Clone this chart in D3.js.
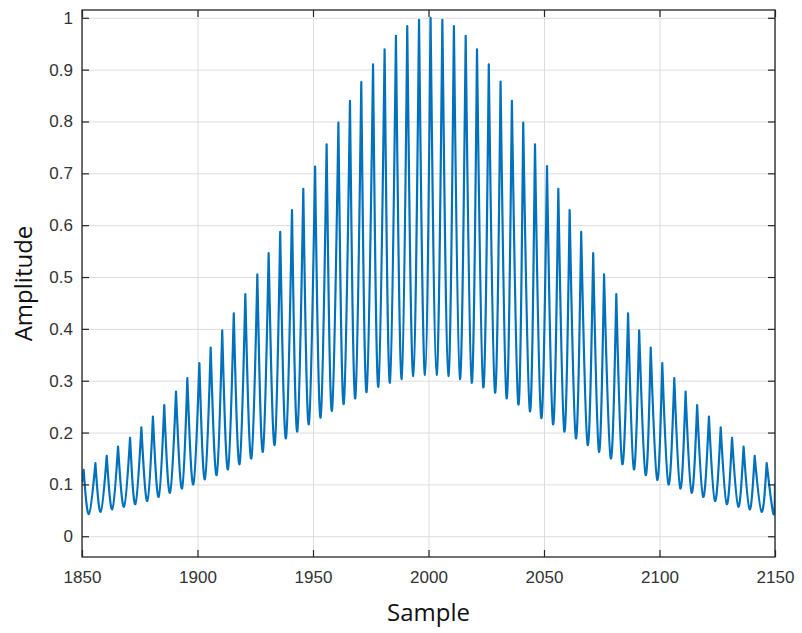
<!DOCTYPE html>
<html>
<head>
<meta charset="utf-8">
<script src="https://cdn.jsdelivr.net/npm/d3@7/dist/d3.min.js"></script>
<style>
    body { margin: 0; background: #fff; }
    .tick text { font-family: "Liberation Sans", Arial, sans-serif; }
</style>
</head>
<body>
<svg id="svg" width="802" height="633"></svg>
<script>
// values
var peakSamples = [1850.7, 1855.8, 1860.7, 1865.6, 1870.8, 1875.7, 1880.7, 1885.6, 1890.7, 1895.6,
    1900.8, 1905.7, 1910.7, 1915.7, 1920.7, 1925.9, 1930.8, 1935.8, 1940.9, 1945.8,
    1950.9, 1955.9, 1961.0, 1966.0, 1970.9, 1976.0, 1981.0, 1985.9, 1990.8, 1995.9,
    2000.9, 2006.0, 2011.0, 2016.1, 2021.0, 2026.1, 2031.2, 2036.1, 2041.0, 2046.1,
    2051.3, 2056.2, 2061.1, 2066.1, 2071.3, 2076.0, 2081.3, 2086.4, 2091.2, 2096.2,
    2101.2, 2106.4, 2111.3, 2116.3, 2121.4, 2126.5, 2131.4, 2136.4, 2141.2, 2146.4];
var peakValues = [0.128, 0.141, 0.155, 0.173, 0.190, 0.210, 0.231, 0.253, 0.279, 0.305,
    0.334, 0.364, 0.397, 0.430, 0.467, 0.505, 0.546, 0.587, 0.629, 0.670,
    0.713, 0.756, 0.798, 0.840, 0.876, 0.910, 0.939, 0.965, 0.984, 0.996,
    1.000, 0.996, 0.984, 0.965, 0.939, 0.910, 0.877, 0.840, 0.798, 0.756,
    0.714, 0.670, 0.629, 0.587, 0.546, 0.505, 0.467, 0.430, 0.397, 0.364,
    0.334, 0.305, 0.279, 0.253, 0.231, 0.210, 0.190, 0.173, 0.155, 0.141];
var troughSamples = [1853.0, 1858.1, 1863.1, 1868.2, 1873.1, 1878.3, 1883.2, 1888.1, 1893.3, 1898.2,
    1903.2, 1908.3, 1913.2, 1918.2, 1923.3, 1928.3, 1933.4, 1938.3, 1943.2, 1948.2,
    1953.3, 1958.2, 1963.3, 1968.3, 1973.2, 1978.3, 1983.3, 1988.4, 1993.4, 1998.5,
    2003.5, 2008.6, 2013.6, 2018.7, 2023.7, 2028.8, 2033.8, 2038.9, 2043.9, 2048.8,
    2053.9, 2058.8, 2063.8, 2068.9, 2073.8, 2078.9, 2083.9, 2088.9, 2094.0, 2099.0,
    2103.9, 2109.0, 2113.9, 2118.9, 2124.0, 2129.1, 2134.1, 2139.0, 2144.2, 2149.3];
var troughValues = [0.043, 0.047, 0.052, 0.057, 0.062, 0.068, 0.076, 0.084, 0.092, 0.100,
    0.110, 0.118, 0.129, 0.139, 0.150, 0.163, 0.176, 0.189, 0.202, 0.216,
    0.229, 0.242, 0.255, 0.266, 0.278, 0.288, 0.296, 0.303, 0.309, 0.311,
    0.311, 0.309, 0.303, 0.296, 0.287, 0.277, 0.266, 0.254, 0.241, 0.228,
    0.216, 0.202, 0.189, 0.176, 0.163, 0.150, 0.139, 0.129, 0.118, 0.109,
    0.100, 0.092, 0.084, 0.076, 0.068, 0.062, 0.057, 0.052, 0.047, 0.043];
var firstPoint = [1850, 0.105];   // where the trace enters the axes
var lastPoint = [2150, 0.100];    // where it leaves them

var xTicks = [1850, 1900, 1950, 2000, 2050, 2100, 2150];
var yTicks = [0, 0.1, 0.2, 0.3, 0.4, 0.5, 0.6, 0.7, 0.8, 0.9, 1];
var xDomain = [1850, 2150];
var yDomain = [-0.04, 1.015];

var svg = d3.select("svg"),
    margin = {top: 10, right: 27, bottom: 76, left: 82},
    width = 802 - margin.left - margin.right,
    height = 633 - margin.top - margin.bottom;

var ink = "#262626";

var g = svg.append("g").attr("transform", "translate(" + margin.left + "," + margin.top + ")");

var x = d3.scaleLinear().domain(xDomain).range([0, width]);
var y = d3.scaleLinear().domain(yDomain).range([height, 0]);

// grid lines
g.append("g")
    .attr("class", "grid")
    .attr("transform", "translate(0," + height + ")")
    .call(d3.axisBottom(x).tickValues(xTicks).tickSize(-height).tickFormat(""));
g.append("g")
    .attr("class", "grid")
    .call(d3.axisLeft(y).tickValues(yTicks).tickSize(-width).tickFormat(""));
g.selectAll(".grid .domain").remove();
g.selectAll(".grid line").attr("stroke", "#dcdcdc").attr("stroke-width", 1);

// the trace: one piece per period, corner at each peak, smooth through the trough
var pts = function (s, v) { return [s, v]; };
var pieces = [[firstPoint, pts(peakSamples[0], peakValues[0])]];
for (var k = 0; k < peakSamples.length; k++) {
    var next = k + 1 < peakSamples.length ? pts(peakSamples[k + 1], peakValues[k + 1]) : lastPoint;
    pieces.push([pts(peakSamples[k], peakValues[k]), pts(troughSamples[k], troughValues[k]), next]);
}

var line = d3.line()
    .x(function (d) { return x(d[0]); })
    .y(function (d) { return y(d[1]); })
    .curve(d3.curveNatural);

g.append("clipPath").attr("id", "plot-clip")
    .append("rect").attr("width", width).attr("height", height);

g.append("path")
    .attr("clip-path", "url(#plot-clip)")
    .attr("d", pieces.map(function (p) { return line(p); }).join(""))
    .attr("fill", "none")
    .attr("stroke", "#0072BD")
    .attr("stroke-width", 2.2)
    .attr("stroke-linejoin", "round")
    .attr("stroke-linecap", "round");

// axes with ticks pointing inwards, on all four sides
var xAxis = g.append("g")
    .attr("transform", "translate(0," + height + ")")
    .call(d3.axisBottom(x).tickValues(xTicks).tickSizeInner(-7).tickSizeOuter(0).tickPadding(14).tickFormat(d3.format("d")));
var yAxis = g.append("g")
    .call(d3.axisLeft(y).tickValues(yTicks).tickSizeInner(-7).tickSizeOuter(0).tickPadding(9).tickFormat(d3.format("")));
var topAxis = g.append("g")
    .call(d3.axisTop(x).tickValues(xTicks).tickSizeInner(-7).tickSizeOuter(0).tickFormat(""));
var rightAxis = g.append("g")
    .attr("transform", "translate(" + width + ",0)")
    .call(d3.axisRight(y).tickValues(yTicks).tickSizeInner(-7).tickSizeOuter(0).tickFormat(""));

[xAxis, yAxis, topAxis, rightAxis].forEach(function (a) {
    a.select(".domain").remove();
    a.selectAll("line").attr("stroke", ink).attr("stroke-width", 1.2);
    a.selectAll("text").attr("fill", "#333").style("font-size", "17px");
});

// box round the axes
g.append("rect")
    .attr("width", width)
    .attr("height", height)
    .attr("fill", "none")
    .attr("stroke", ink)
    .attr("stroke-width", 1.3);

// axis titles
svg.append("text")
    .attr("x", margin.left + width / 2)
    .attr("y", 621)
    .attr("text-anchor", "middle")
    .style("font-family", "'Open Sans', sans-serif")
    .style("font-size", "24px")
    .attr("fill", "#111")
    .text("Sample");

svg.append("text")
    .attr("transform", "translate(32," + (margin.top + height / 2) + ") rotate(-90)")
    .attr("text-anchor", "middle")
    .style("font-family", "'Open Sans', sans-serif")
    .style("font-size", "24px")
    .attr("fill", "#111")
    .text("Amplitude");
</script>
</body>
</html>
